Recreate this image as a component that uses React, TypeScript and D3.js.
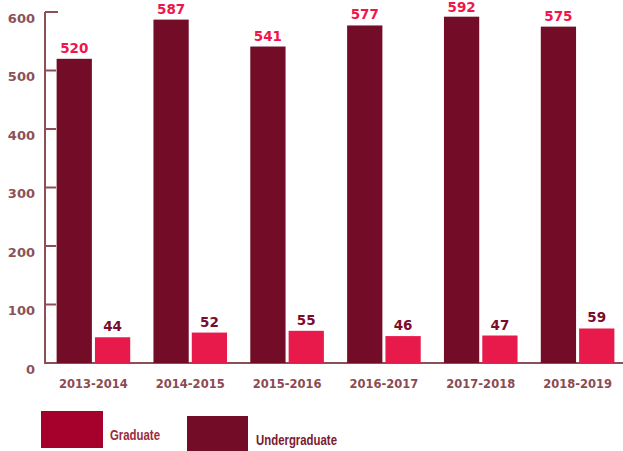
import React from 'react';
import * as d3 from 'd3';

const years = ["2013-2014", "2014-2015", "2015-2016", "2016-2017", "2017-2018", "2018-2019"];
const undergraduate = [520, 587, 541, 577, 592, 575];
const graduate = [44, 52, 55, 46, 47, 59];
const yTicks = [0, 100, 200, 300, 400, 500, 600];

const W = 623;
const H = 451;

const UG = '#730d27';
const GR = '#e81a4b';
const AXIS = '#8c4f55';
const NUM = "'DejaVu Sans', sans-serif";
const LEG = "'Liberation Sans', Arial, sans-serif";

const App: React.FC = () => {
  const x = d3.scaleBand<string>().domain(years).range([45, 626]).paddingInner(0.24).paddingOuter(0.12);
  const sub = d3.scaleBand<string>().domain(['ug', 'gr']).range([0, x.bandwidth()]).paddingInner(0.08);
  const y = d3.scaleLinear().domain([0, 600]).range([363, 12]);

  return (
    <div style={{ position: 'absolute', left: 0, top: 0 }}>
      <svg width={W} height={H} style={{ display: 'block', background: '#fff' }}>
        {/* axis */}
        <g stroke={AXIS} strokeWidth={2} fill="none">
          <line x1={45} x2={45} y1={y(0)} y2={y(600)} />
          <line x1={44} x2={W} y1={y(0)} y2={y(0)} />
          {yTicks.map(t => (
            <line key={t} x1={45} x2={t === 600 ? 58 : 56} y1={y(t)} y2={y(t)} />
          ))}
        </g>
        {yTicks.map(t => (
          <text key={t} x={35} y={y(t) + 6} dy="0.35em" textAnchor="end" fontFamily={NUM}
            fontWeight="bold" fontSize={13} fill="#8c5257">{t}</text>
        ))}

        {years.map((yr, i) => {
          const x0 = x(yr)!;
          const xu = x0 + sub('ug')!;
          const xg = x0 + sub('gr')!;
          const bw = sub.bandwidth();
          return (
            <g key={yr}>
              <rect x={xu} y={y(undergraduate[i])} width={bw} height={y(0) - y(undergraduate[i])} fill={UG} />
              <rect x={xg} y={y(graduate[i])} width={bw} height={y(0) - y(graduate[i])} fill={GR} />
              <text x={xu + bw / 2} y={Math.max(y(undergraduate[i]) - 6, 12)} textAnchor="middle" fontFamily={NUM}
                fontWeight="bold" fontSize={13.5} fill="#f0164a">{undergraduate[i]}</text>
              <text x={xg + bw / 2} y={y(graduate[i]) - 6} textAnchor="middle" fontFamily={NUM}
                fontWeight="bold" fontSize={13.5} fill="#7a0d2c">{graduate[i]}</text>
              <text x={x0 + x.bandwidth() / 2} y={388} textAnchor="middle" fontFamily={NUM}
                fontWeight="bold" fontSize={11.5} fill="#8c4a52">{yr}</text>
            </g>
          );
        })}

        {/* legend */}
        <rect x={41} y={411} width={62} height={37} fill="#a6002c" />
        <text x={110} y={440} fontFamily={LEG} fontWeight="bold" fontSize={14} fill="#9e2a3c"
          textLength={50} lengthAdjust="spacingAndGlyphs">Graduate</text>
        <rect x={187} y={416} width={61} height={36} fill={UG} />
        <text x={256} y={445} fontFamily={LEG} fontWeight="bold" fontSize={14} fill="#7a1a30"
          textLength={81} lengthAdjust="spacingAndGlyphs">Undergraduate</text>
      </svg>
    </div>
  );
};

export default App;
